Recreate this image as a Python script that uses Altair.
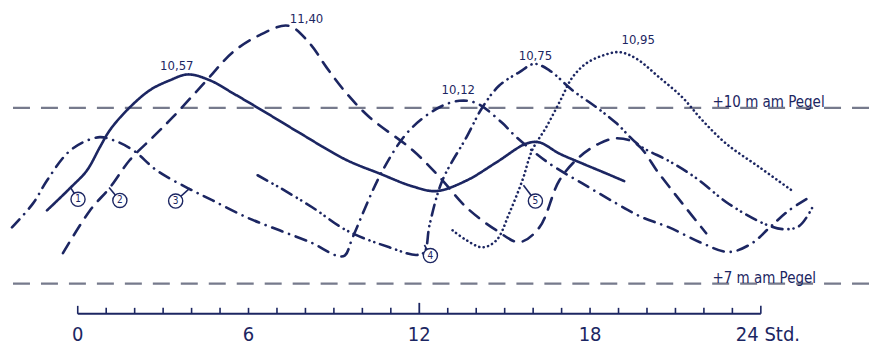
import altair as alt
import pandas as pd

# ---- data (hours, water level in m) ----
hours_1 = [-1.08, -0.27, 0.32, 0.78, 1.13, 1.73, 2.53, 3.24, 3.87, 4.64, 5.45, 6.64, 7.80, 9.44,
           10.60, 11.76, 12.60, 13.66, 14.71, 15.76, 16.22, 16.92, 17.73, 18.57, 19.20]
level_1 = [8.25, 8.63, 8.93, 9.33, 9.62, 9.96, 10.30, 10.47, 10.57, 10.47, 10.25, 9.91, 9.57, 9.11,
           8.88, 8.66, 8.58, 8.76, 9.07, 9.39, 9.41, 9.22, 9.05, 8.88, 8.75]

hours_2 = [-0.52, 0.43, 1.13, 1.83, 2.64, 3.34, 4.53, 5.45, 6.39, 7.40, 8.15, 8.74, 9.44, 10.25,
           11.76, 12.71, 13.66, 14.71, 15.52, 16.22, 16.92, 17.62, 18.32, 18.92, 19.62, 20.42, 21.24, 22.08]
level_2 = [7.52, 8.25, 8.64, 9.11, 9.50, 9.84, 10.47, 10.95, 11.24, 11.40, 11.10, 10.69, 10.25, 9.84,
           9.28, 8.82, 8.30, 7.91, 7.71, 7.96, 8.76, 9.16, 9.39, 9.48, 9.39, 8.88, 8.37, 7.86]

hours_3 = [-2.31, -1.57, -1.08, -0.38, 0.18, 0.78, 1.24, 1.94, 2.78, 3.83, 4.74, 5.94, 7.09, 8.25,
           9.09, 9.38, 9.66, 10.71, 11.66, 12.71, 13.41, 14.01, 14.92, 15.41, 16.57, 17.73, 18.92,
           19.84, 20.78, 21.94, 22.88, 23.69, 24.29, 24.99, 25.69]
level_3 = [7.96, 8.37, 8.76, 9.22, 9.41, 9.50, 9.45, 9.28, 8.93, 8.64, 8.42, 8.13, 7.91, 7.69,
           7.48, 7.48, 7.79, 8.93, 9.62, 10.01, 10.12, 10.08, 9.74, 9.50, 9.05, 8.71, 8.37,
           8.13, 7.96, 7.69, 7.54, 7.69, 7.95, 8.25, 8.47]

hours_4 = [6.32, 7.09, 8.25, 9.44, 10.95, 11.90, 12.18, 12.36, 12.81, 13.66, 14.22, 14.81, 15.52,
           16.04, 16.57, 17.38, 18.22, 18.92, 19.73, 20.78, 21.73, 22.88, 24.18, 24.81, 25.34, 25.80]
level_4 = [8.85, 8.64, 8.30, 7.91, 7.62, 7.49, 7.54, 8.00, 8.76, 9.50, 10.01, 10.38, 10.61,
           10.75, 10.64, 10.30, 10.01, 9.74, 9.36, 9.09, 8.80, 8.36, 8.01, 7.93, 7.98, 8.29]

hours_5 = [13.17, 13.66, 14.22, 14.71, 15.16, 15.62, 15.97, 16.46, 16.96, 17.38, 17.87, 18.43,
           19.03, 19.62, 20.43, 21.24, 21.94, 22.78, 23.94, 25.09]
level_5 = [7.91, 7.74, 7.62, 7.74, 8.20, 8.76, 9.28, 9.67, 10.13, 10.52, 10.76, 10.89,
           10.95, 10.84, 10.52, 10.18, 9.79, 9.39, 8.99, 8.59]

curve_names = ["1", "2", "3", "4", "5"]

peak_labels = ["10,57", "11,40", "10,12", "10,75", "10,95"]
peak_h = [3.48, 8.04, 13.37, 16.08, 19.69]
peak_m = [10.72, 11.51, 10.30, 10.88, 11.15]

circle_h = [0.01, 1.48, 3.44, 12.39, 16.08]
circle_m = [8.44, 8.42, 8.41, 7.48, 8.41]
anchor_h = [-0.24, 1.10, 3.94, 12.18, 15.66]
anchor_m = [8.63, 8.64, 8.63, 7.66, 8.68]

ref_levels = [10, 7]
ref_texts = ["+10 m am Pegel", "+7 m am Pegel"]
ref_text_h = [22.3, 22.3]

tick_hours = list(range(25))
tick_label_hours = [0, 6, 12, 18]
tick_labels = ["0", "6", "12", "18"]
last_label = "24 Std."

# ---- styles ----
NAVY = "#1c2662"
GRAY = "#767a8c"
FONT = "DejaVu Sans Condensed, Liberation Sans Narrow, DejaVu Sans"
W, H = 862, 337
XS = alt.Scale(domain=[-2.45, 27.8], nice=False, zero=False)
YS = alt.Scale(domain=[5.957, 11.7], nice=False, zero=False)


def X(f):
    return alt.X(f, type="quantitative", scale=XS, axis=None)


def Y(f):
    return alt.Y(f, type="quantitative", scale=YS, axis=None)


rows = []
for name, hs, ms in zip(curve_names, [hours_1, hours_2, hours_3, hours_4, hours_5],
                        [level_1, level_2, level_3, level_4, level_5]):
    for i, (h, m) in enumerate(zip(hs, ms)):
        rows.append({"curve": name, "h": h, "m": m, "i": i})
curves = pd.DataFrame(rows)

ref_df = pd.DataFrame({"m": ref_levels, "t": ref_texts, "h": ref_text_h})
peaks_df = pd.DataFrame({"h": peak_h, "m": peak_m, "t": peak_labels})
circ_df = pd.DataFrame({"h": circle_h, "m": circle_m, "ah": anchor_h, "am": anchor_m, "t": curve_names})
ticks_df = pd.DataFrame({"h": tick_hours})
tlab_df = pd.DataFrame({"h": tick_label_hours, "t": tick_labels})
last_df = pd.DataFrame({"h": [24], "t": [last_label]})
base_df = pd.DataFrame({"a": [0], "b": [24]})

ref_lines = alt.Chart(ref_df).mark_rule(color=GRAY, strokeWidth=2.2, strokeDash=[17, 11]).encode(y=Y("m"))
ref_text = alt.Chart(ref_df).mark_text(align="left", baseline="alphabetic", dy=-1, fontSize=15,
                                       font=FONT, color=NAVY).encode(x=X("h"), y=Y("m"), text="t:N")

lines = alt.Chart(curves).mark_line(color=NAVY, strokeWidth=2.6, strokeCap="round",
                                    interpolate="catmull-rom").encode(
    x=X("h"), y=Y("m"), order="i:Q",
    strokeDash=alt.StrokeDash("curve:N", legend=None, scale=alt.Scale(
        domain=curve_names,
        range=[[1, 0], [12, 9], [11, 7, 0.1, 7], [11, 6, 0.1, 5, 0.1, 6], [0.1, 4.4]])))

peaks = alt.Chart(peaks_df).mark_text(fontSize=13, font=FONT, color=NAVY).encode(
    x=X("h"), y=Y("m"), text="t:N")

leaders = alt.Chart(circ_df).mark_rule(color=NAVY, strokeWidth=1.6).encode(
    x=X("ah"), y=Y("am"), x2="h:Q", y2="m:Q")
circles = alt.Chart(circ_df).mark_circle(fill="white", stroke=NAVY, strokeWidth=1.4, size=200,
                                         opacity=1).encode(x=X("h"), y=Y("m"))
circ_text = alt.Chart(circ_df).mark_text(fontSize=10, font=FONT, color=NAVY).encode(
    x=X("h"), y=Y("m"), text="t:N")

baseline = alt.Chart(base_df).mark_rule(color=NAVY, strokeWidth=2).encode(
    x=X("a"), x2="b:Q", y=alt.value(306))
ticks = alt.Chart(ticks_df).mark_rule(color=NAVY, strokeWidth=1.6).encode(
    x=X("h"), y=alt.value(306), y2=alt.value(300)).transform_filter("datum.h % 12 != 0")
ticks_end = alt.Chart(ticks_df).mark_rule(color=NAVY, strokeWidth=1.6).encode(
    x=X("h"), y=alt.value(306), y2=alt.value(298)).transform_filter("datum.h == 0 || datum.h == 24")
ticks_mid = alt.Chart(ticks_df).mark_rule(color=NAVY, strokeWidth=1.8).encode(
    x=X("h"), y=alt.value(306), y2=alt.value(295)).transform_filter("datum.h == 12")
tlabels = alt.Chart(tlab_df).mark_text(fontSize=20, font=FONT, color=NAVY, baseline="middle").encode(
    x=X("h"), y=alt.value(327), text="t:N")
tlast = alt.Chart(last_df).mark_text(fontSize=20, font=FONT, color=NAVY, baseline="middle",
                                     align="left", dx=-25).encode(x=X("h"), y=alt.value(327), text="t:N")

chart = alt.layer(ref_lines, ref_text, lines, peaks, leaders, circles, circ_text,
                  baseline, ticks, ticks_end, ticks_mid, tlabels, tlast).properties(
    width=W, height=H, padding=0, autosize=alt.AutoSizeParams(type="none"),
    background="white").configure_view(stroke=None)

chart.save("out.html", embed_options={"renderer": "svg", "actions": False})
